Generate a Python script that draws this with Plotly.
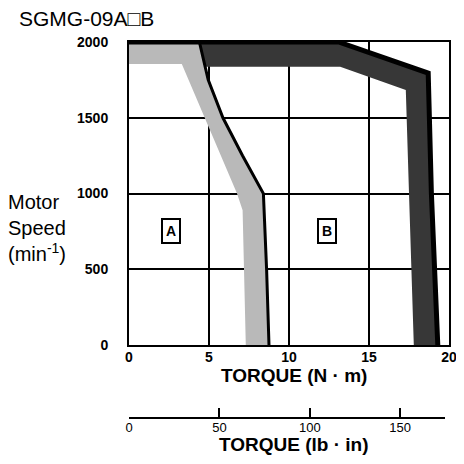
import plotly.graph_objects as go

# ---- data ----
# boundary line between region A and region B (torque N·m, speed min^-1)
boundary_torque = [4.4, 4.95, 5.87, 7.1, 8.4, 8.6, 8.75]
boundary_speed = [2000, 1750, 1500, 1250, 1000, 500, 0]

# inner (left) edge of the light stippled band of region A
a_band_torque = [7.3, 7.1, 6.75, 4.75, 3.3, 0]
a_band_speed = [0, 890, 1000, 1500, 1855, 1855]

# outer edge of region B band (top + right side)
b_outer_torque = [0, 13.1, 18.7, 18.9, 19.3]
b_outer_speed = [2000, 2000, 1795, 1000, 0]
# inner edge of region B band
b_inner_torque = [17.8, 17.5, 17.3, 13.2, 4.75]
b_inner_speed = [0, 1000, 1684, 1836, 1836]

x_ticks = [0, 5, 10, 15, 20]
y_ticks = [0, 500, 1000, 1500, 2000]
lbin_ticks = [0, 50, 100, 150]
lbin_end = 175
nm_max = 20
lbin_per_nm = 8.8507

FONT = "Liberation Sans"

fig = go.Figure()

# Region A light stippled band
a_poly_x = [0] + boundary_torque + a_band_torque
a_poly_y = [2000] + boundary_speed + a_band_speed
fig.add_trace(go.Scatter(
    x=a_poly_x, y=a_poly_y, mode="lines", fill="toself",
    line=dict(width=0, color="rgba(0,0,0,0)"),
    fillcolor="rgb(185,185,185)",
    hoverinfo="skip", showlegend=False))

# Region B dark band
b_poly_x = [boundary_torque[0]] + b_outer_torque[1:] + b_inner_torque
b_poly_y = [2000] + b_outer_speed[1:] + b_inner_speed
fig.add_trace(go.Scatter(
    x=b_poly_x, y=b_poly_y, mode="lines", fill="toself",
    line=dict(width=0, color="rgba(0,0,0,0)"),
    fillcolor="rgb(55,55,55)",
    hoverinfo="skip", showlegend=False))

# outer black edge of band B
fig.add_trace(go.Scatter(
    x=b_outer_torque, y=b_outer_speed, mode="lines",
    line=dict(width=5, color="black"), hoverinfo="skip", showlegend=False))

# boundary line
fig.add_trace(go.Scatter(
    x=boundary_torque, y=boundary_speed, mode="lines",
    line=dict(width=3, color="black"), hoverinfo="skip", showlegend=False))

# invisible trace carrying the lb·in axis (own small subplot)
fig.add_trace(go.Scatter(
    x=[0, lbin_end], y=[None, None], xaxis="x2", yaxis="y2",
    mode="markers", hoverinfo="skip", showlegend=False))

tickfont = dict(family=FONT, size=14, color="black", weight="bold")

# page body has an 8px margin, so the figure is 456x456 placed at (8,8)
fig.update_layout(
    width=456, height=456,
    margin=dict(l=121, r=7, t=34, b=47),
    paper_bgcolor="white", plot_bgcolor="white",
    xaxis=dict(range=[0, nm_max], tickvals=x_ticks, anchor="y",
               showgrid=True, gridcolor="black", gridwidth=1.5,
               showline=True, linecolor="black", linewidth=2, mirror=True,
               ticks="outside", ticklen=1, tickcolor="rgba(0,0,0,0)",
               ticklabelstandoff=-3,
               tickfont=tickfont, zeroline=False, fixedrange=True),
    yaxis=dict(range=[0, 2000], tickvals=y_ticks, domain=[0.1915, 1],
               showgrid=True, gridcolor="black", gridwidth=1.5,
               showline=True, linecolor="black", linewidth=2, mirror=True,
               ticks="outside", ticklen=16, tickcolor="rgba(0,0,0,0)",
               tickfont=tickfont, zeroline=False, fixedrange=True),
    xaxis2=dict(range=[0, lbin_end], domain=[0, lbin_end / lbin_per_nm / nm_max],
                anchor="y2", side="bottom",
                tickvals=lbin_ticks,
                minor=dict(tickvals=[lbin_end], ticks="inside", ticklen=9,
                           tickwidth=2, tickcolor="black", showgrid=False),
                showgrid=False, zeroline=False,
                showline=True, linecolor="black", linewidth=2,
                ticks="inside", ticklen=9, tickwidth=2, tickcolor="black",
                ticklabelstandoff=-3,
                tickfont=dict(family=FONT, size=13, color="black"),
                fixedrange=True),
    yaxis2=dict(domain=[0, 0.05], visible=False, range=[0, 1],
                fixedrange=True),
)

ann = [
    dict(text="SGMG-09A□B", x=-0.35, y=1.063, xref="paper", yref="paper",
         xanchor="left", yanchor="middle", showarrow=False,
         font=dict(family=FONT, size=21, color="black")),
    dict(text="Motor<br>Speed<br>(min<sup>-1</sup>)", x=-0.385, y=0.505,
         xref="paper", yref="paper", xanchor="left", yanchor="middle",
         align="left", showarrow=False,
         font=dict(family=FONT, size=20, color="black")),
    dict(text="TORQUE (N · m)", x=0.515, y=0.112, xref="paper", yref="paper",
         xanchor="center", yanchor="middle", showarrow=False,
         font=dict(family=FONT, size=19, color="black", weight="bold")),
    dict(text="TORQUE (lb · in)", x=0.515, y=-0.073, xref="paper", yref="paper",
         xanchor="center", yanchor="middle", showarrow=False,
         font=dict(family=FONT, size=19, color="black", weight="bold")),
    dict(text="A", x=2.6, y=750, xref="x", yref="y", showarrow=False,
         bgcolor="white", bordercolor="black", borderwidth=2, borderpad=3,
         font=dict(family=FONT, size=14, color="black", weight="bold")),
    dict(text="B", x=12.4, y=750, xref="x", yref="y", showarrow=False,
         bgcolor="white", bordercolor="black", borderwidth=2, borderpad=3,
         font=dict(family=FONT, size=14, color="black", weight="bold")),
]
fig.update_layout(annotations=ann)

fig.write_html("out.html")
